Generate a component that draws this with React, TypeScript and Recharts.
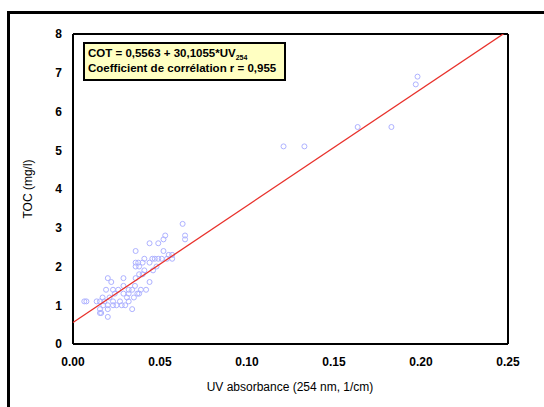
import React from 'react';
import { ScatterChart, Scatter, XAxis, YAxis } from 'recharts';

// UV254 absorbance (1/cm) vs TOC (mg/l)
const uvValues = [
  0.0065, 0.0077,
  0.0136, 0.0155, 0.018, 0.023, 0.027, 0.032,
  0.0174, 0.02, 0.023, 0.025, 0.028, 0.03,
  0.0155, 0.02, 0.034,
  0.0155, 0.0162,
  0.02,
  0.017, 0.021, 0.031, 0.035,
  0.024, 0.029, 0.032, 0.037, 0.038,
  0.019, 0.023, 0.026, 0.032, 0.034, 0.039, 0.042,
  0.029, 0.0356,
  0.022, 0.044,
  0.02, 0.029, 0.036,
  0.038, 0.04,
  0.041, 0.046,
  0.036, 0.038, 0.048,
  0.036, 0.0375, 0.04, 0.044,
  0.041, 0.0456, 0.047, 0.049, 0.051, 0.054, 0.057,
  0.055, 0.057,
  0.036, 0.052,
  0.044, 0.049,
  0.052, 0.053,
  0.063, 0.0644, 0.0644,
  0.121, 0.133,
  0.1636, 0.183,
  0.197, 0.198,
];
const tocValues = [
  1.1, 1.1,
  1.1, 1.1, 1.1, 1.1, 1.1, 1.1,
  1.0, 1.0, 1.0, 1.0, 1.0, 1.0,
  0.9, 0.9, 0.9,
  0.8, 0.8,
  0.7,
  1.2, 1.2, 1.2, 1.2,
  1.3, 1.3, 1.3, 1.3, 1.3,
  1.4, 1.4, 1.4, 1.4, 1.4, 1.4, 1.4,
  1.5, 1.5,
  1.6, 1.6,
  1.7, 1.7, 1.7,
  1.8, 1.8,
  1.9, 1.9,
  2.0, 2.0, 2.0,
  2.1, 2.1, 2.1, 2.1,
  2.2, 2.2, 2.2, 2.2, 2.2, 2.2, 2.2,
  2.3, 2.3,
  2.4, 2.4,
  2.6, 2.6,
  2.7, 2.8,
  3.1, 2.8, 2.7,
  5.1, 5.1,
  5.6, 5.6,
  6.7, 6.9,
];

// regression line COT = 0,5563 + 30,1055*UV254, end points
const fitX = [0, 0.25];
const fitY = [0.5563, 8.0827];

const xTicks = [0, 0.05, 0.1, 0.15, 0.2, 0.25];
const yTicks = [0, 1, 2, 3, 4, 5, 6, 7, 8];

const points = uvValues.map((x, i) => ({ x, y: tocValues[i] }));
const fit = fitX.map((x, i) => ({ x, y: fitY[i] }));

const font = '"Liberation Sans", Arial, sans-serif';

const Ring = (props: any) => (
  <circle cx={props.cx} cy={props.cy} r={2.5} fill="none" stroke="#aeb2ff" strokeWidth={1} />
);

const YTitle = () => (
  <text x={28} y={189} transform="rotate(-90, 28, 189)" textAnchor="middle" dominantBaseline="central"
    fontFamily={font} fontSize={12} fill="#000">
    TOC (mg/l)
  </text>
);

const XTitle = () => (
  <text x={290} y={391} textAnchor="middle" fontFamily={font} fontSize={12} fill="#000">
    UV absorbance (254 nm, 1/cm)
  </text>
);

export default function App() {
  const tickStyle = { fill: '#000', fontSize: 12, fontWeight: 'bold', fontFamily: font };
  const frame = { stroke: '#000', strokeWidth: 2 };
  return (
    <div style={{ position: 'absolute', left: 0, top: 0, width: 544, height: 407, background: '#fff', overflow: 'hidden' }}>
      <div style={{ position: 'absolute', left: 7, top: 11, width: 600, height: 500, border: '3px solid #000' }} />
      <div style={{ position: 'absolute', left: 0, top: 0 }}>
        <ScatterChart width={544} height={407} margin={{ top: 34, right: 36, left: 0, bottom: 0 }}>
          {/* mirrored axes: inward tick marks and the top/right sides of the frame */}
          <XAxis xAxisId="in" type="number" dataKey="x" domain={[0, 0.25]} ticks={xTicks} orientation="bottom"
            mirror height={20} tick={false} tickSize={4} axisLine={false} tickLine={{ stroke: '#000' }} />
          <XAxis xAxisId="top" type="number" dataKey="x" domain={[0, 0.25]} ticks={xTicks} orientation="top"
            mirror height={20} tick={false} tickSize={4} axisLine={frame} tickLine={{ stroke: '#000' }} />
          <YAxis yAxisId="in" type="number" dataKey="y" domain={[0, 8]} ticks={yTicks} orientation="left"
            mirror width={20} tick={false} tickSize={4} axisLine={false} tickLine={{ stroke: '#000' }} />
          <YAxis yAxisId="right" type="number" dataKey="y" domain={[0, 8]} ticks={yTicks} orientation="right"
            mirror width={20} tick={false} tickSize={4} axisLine={frame} tickLine={{ stroke: '#000' }} />
          <XAxis xAxisId="main" type="number" dataKey="x" domain={[0, 0.25]} ticks={xTicks} height={63}
            tickFormatter={(v: number) => v.toFixed(2)} tick={tickStyle} tickLine={false} tickSize={0} tickMargin={13}
            axisLine={frame} label={<XTitle />} />
          <YAxis yAxisId="main" type="number" dataKey="y" domain={[0, 8]} ticks={yTicks} width={73} allowDataOverflow
            tick={tickStyle} tickLine={false} tickSize={0} tickMargin={11}
            axisLine={frame} label={<YTitle />} />
          <Scatter xAxisId="main" yAxisId="main" data={points} shape={Ring} isAnimationActive={false} />
          <Scatter xAxisId="main" yAxisId="main" data={fit} line={{ stroke: '#e8322c', strokeWidth: 1.3 }}
            shape={() => <g />} isAnimationActive={false} />
        </ScatterChart>
      </div>
      <div style={{ position: 'absolute', left: 83, top: 42, width: 196, height: 33, background: '#ffffc2',
        border: '2px solid #000', fontFamily: font, fontWeight: 'bold', fontSize: 11.5, lineHeight: '15px',
        padding: '2px 0 0 3px', color: '#000', whiteSpace: 'nowrap' }}>
        <div>COT = 0,5563 + 30,1055*UV<sub style={{ fontSize: 7, lineHeight: 0 }}>254</sub></div>
        <div>Coefficient de corrélation r = 0,955</div>
      </div>
    </div>
  );
}
